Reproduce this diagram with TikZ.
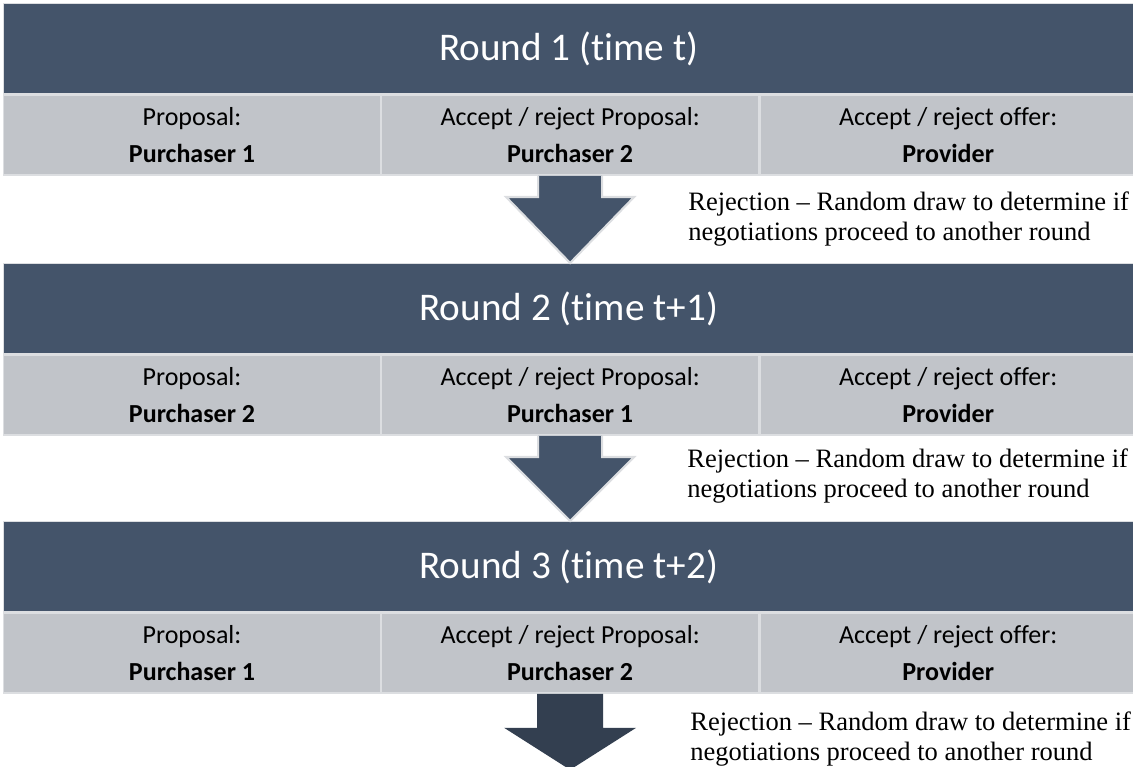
\documentclass[tikz,border=0pt]{standalone}
\usepackage{fontspec}
\setmainfont{Liberation Serif}
\newfontfamily\carlito[Ligatures=NoCommon]{Carlito}
\usetikzlibrary{positioning}
\definecolor{roundblue}{HTML}{44546A}
\definecolor{bandgrey}{HTML}{C1C4C9}
\definecolor{edgegrey}{HTML}{DCDEE1}
\definecolor{lastblue}{HTML}{333F50}

\begin{document}
\begin{tikzpicture}[
        header/.style={rectangle, draw=edgegrey, line width=0.8pt, fill=roundblue, text=white, minimum width=22.6cm, minimum height=1.8cm, inner sep=0pt, font=\carlito\fontsize{22.3}{26}\selectfont},
        cell/.style={rectangle, draw=edgegrey, line width=0.8pt, fill=bandgrey, minimum width=7.5333cm, minimum height=1.6cm, inner sep=0pt, align=center, font=\carlito\fontsize{14.8}{21.5}\selectfont},
        blockarrow/.style={fill=roundblue, draw=edgegrey, line width=1.2pt, line join=miter},
        note/.style={anchor=west, inner sep=0pt, align=left, font=\fontsize{15.1}{17.6}\selectfont}
    ]
    \useasboundingbox (0,0) rectangle (22.66,-15.34);
    % Round 1
    \node[header, anchor=north west] (r1) at (0.06,-0.06) {Round 1 (time t)};
    \node[cell, below=0cm of r1.south west, anchor=north west] (r1a) {Proposal:\\\textbf{Purchaser 1}};
    \node[cell, right=0cm of r1a] (r1b) {Accept / reject Proposal:\\\textbf{Purchaser 2}};
    \node[cell, right=0cm of r1b] (r1c) {Accept / reject offer:\\\textbf{Provider}};
    % Round 2
    \node[header, anchor=north west] (r2) at (0.06,-5.26) {Round 2 (time t+1)};
    \node[cell, below=0cm of r2.south west, anchor=north west] (r2a) {Proposal:\\\textbf{Purchaser 2}};
    \node[cell, right=0cm of r2a] (r2b) {Accept / reject Proposal:\\\textbf{Purchaser 1}};
    \node[cell, right=0cm of r2b] (r2c) {Accept / reject offer:\\\textbf{Provider}};
    % Round 3
    \node[header, anchor=north west] (r3) at (0.06,-10.42) {Round 3 (time t+2)};
    \node[cell, below=0cm of r3.south west, anchor=north west] (r3a) {Proposal:\\\textbf{Purchaser 1}};
    \node[cell, right=0cm of r3a] (r3b) {Accept / reject Proposal:\\\textbf{Purchaser 2}};
    \node[cell, right=0cm of r3b] (r3c) {Accept / reject offer:\\\textbf{Provider}};
    % Arrows
    \coordinate (tip1) at (r1b.south |- r2.north);
    \coordinate (tip2) at (r2b.south |- r3.north);
    \coordinate (tip3) at ([yshift=-1.52cm]r3b.south);
    \draw[blockarrow] ([xshift=-0.64cm]r1b.south) -- ([xshift=-0.64cm,yshift=1.32cm]tip1) -- ([xshift=-1.28cm,yshift=1.32cm]tip1) -- (tip1) -- ([xshift=1.28cm,yshift=1.32cm]tip1) -- ([xshift=0.64cm,yshift=1.32cm]tip1) -- ([xshift=0.64cm]r1b.south);
    \draw[blockarrow] ([xshift=-0.64cm]r2b.south) -- ([xshift=-0.64cm,yshift=1.28cm]tip2) -- ([xshift=-1.28cm,yshift=1.28cm]tip2) -- (tip2) -- ([xshift=1.28cm,yshift=1.28cm]tip2) -- ([xshift=0.64cm,yshift=1.28cm]tip2) -- ([xshift=0.64cm]r2b.south);
    \fill[lastblue] ([xshift=-0.66cm]r3b.south) -- ([xshift=-0.66cm,yshift=0.84cm]tip3) -- ([xshift=-1.32cm,yshift=0.84cm]tip3) -- (tip3) -- ([xshift=1.32cm,yshift=0.84cm]tip3) -- ([xshift=0.66cm,yshift=0.84cm]tip3) -- ([xshift=0.66cm]r3b.south) -- cycle;
    % Notes
    \node[note] (rej1) at (13.76,-4.38) {Rejection -- Random draw to determine if\\negotiations proceed to another round};
    \node[note] (rej2) at (13.74,-9.52) {Rejection -- Random draw to determine if\\negotiations proceed to another round};
    \node[note] (rej3) at (13.80,-14.78) {Rejection -- Random draw to determine if\\negotiations proceed to another round};
\end{tikzpicture}
\end{document}
